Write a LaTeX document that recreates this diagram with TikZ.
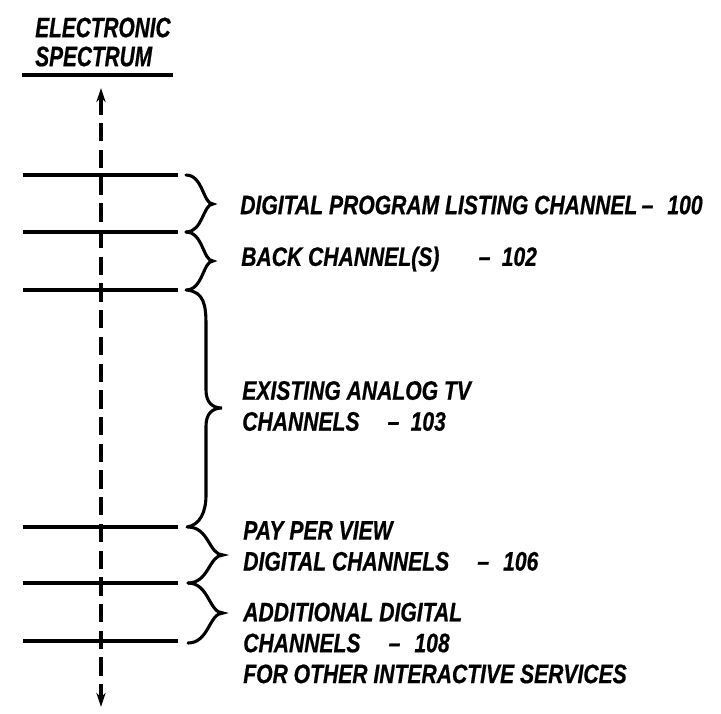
\documentclass[tikz,border=0pt]{standalone}
\usepackage{fontspec}
\setmainfont{Liberation Sans}[FakeStretch=0.79,FakeBold=0.6]
\newfontfamily\titlefont{Liberation Sans}[FakeStretch=0.74,FakeBold=0.6]
\usetikzlibrary{positioning,arrows.meta}

\begin{document}
\begin{tikzpicture}[x=0.025cm,y=-0.025cm,
    bandline/.style={line width=2.4pt},
    bandbrace/.style={line width=2.2pt, line cap=round},
    bandlabel/.style={anchor=west, inner sep=0pt, align=left,
      font=\fontsize{19}{22}\selectfont\bfseries\itshape}]
  \useasboundingbox (0,0) rectangle (721,713);
  % heading
  \node[anchor=west, inner sep=0pt, align=left,
    font=\titlefont\fontsize{20}{20.6}\selectfont\bfseries\itshape] (head) at (35,42) {ELECTRONIC\\SPECTRUM};
  \draw[bandline] (22,75) -- (173,75);
  % spectrum axis
  \coordinate (axtop) at (101,88);
  \coordinate (axbot) at (101,707);
  \draw[line width=2.6pt, dash pattern=on 13pt off 6pt,
    {Stealth[length=10pt,width=6.5pt]}-{Stealth[length=10pt,width=6.5pt]}] (axtop) -- (axbot);
  % band edges
  \foreach \y [count=\i] in {175,232,290,527,583,641}
    \draw[bandline] (23,\y) coordinate (e\i) -- (178,\y);
  % braces
  \draw[bandbrace] (186,175) .. controls (203,175) and (203,204) .. (213,204)
    .. controls (203,204) and (203,232) .. (186,232);
  \draw[bandbrace] (186,232) .. controls (203,232) and (203,261) .. (213,261)
    .. controls (203,261) and (203,290) .. (186,290);
  \draw[bandbrace] (187,290) .. controls (204,292) and (206,305) .. (206,325) -- (206,390)
    .. controls (206,402) and (212,408) .. (222,408)
    .. controls (212,408) and (206,414) .. (206,426) -- (206,495)
    .. controls (206,512) and (200,525) .. (187,527);
  \draw[bandbrace] (188,527) .. controls (209,527) and (209,555) .. (223,555)
    .. controls (209,555) and (209,583) .. (188,583);
  \draw[bandbrace] (188,583) .. controls (209,583) and (209,613) .. (223,613)
    .. controls (209,613) and (209,643) .. (188,643);
  % labels
  \node[bandlabel] (lab100) at (240,205) {DIGITAL PROGRAM LISTING CHANNEL\hspace{3pt}--\hspace{10pt}100};
  \node[bandlabel] (lab102) at (241,259) {BACK CHANNEL(S)\hspace{28pt}--\hspace{8pt}102};
  \node[bandlabel] (lab103) at (242,406) {EXISTING ANALOG TV\\CHANNELS\hspace{20pt}--\hspace{8pt}103};
  \node[bandlabel] (lab106) at (243,546) {PAY PER VIEW\\DIGITAL CHANNELS\hspace{20pt}--\hspace{10pt}106};
  \node[bandlabel] (lab108) at (243,643) {ADDITIONAL DIGITAL\\CHANNELS\hspace{20pt}--\hspace{10pt}108\\FOR OTHER INTERACTIVE SERVICES};
\end{tikzpicture}
\end{document}
